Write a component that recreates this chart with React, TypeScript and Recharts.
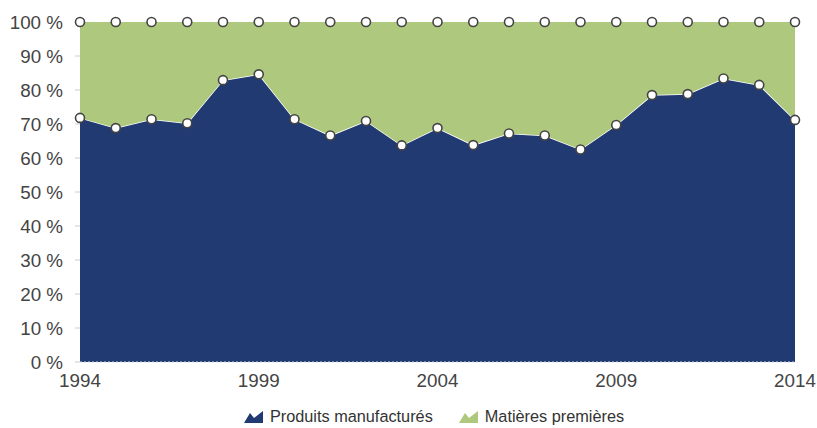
import { AreaChart, Area, XAxis, YAxis, Legend } from "recharts";

const years = [
  1994, 1995, 1996, 1997, 1998, 1999, 2000, 2001, 2002, 2003, 2004, 2005, 2006,
  2007, 2008, 2009, 2010, 2011, 2012, 2013, 2014,
];
const produits = [
  71.8, 68.8, 71.4, 70.2, 82.9, 84.6, 71.4, 66.6, 70.9, 63.7, 68.8, 63.8, 67.2,
  66.6, 62.5, 69.7, 78.5, 78.8, 83.4, 81.5, 71.2,
];
const matieres = produits.map((p) => +(100 - p).toFixed(1));
const xTicks = [1994, 1999, 2004, 2009, 2014];
const yTicks = [0, 10, 20, 30, 40, 50, 60, 70, 80, 90, 100];

const NAVY = "#223a72";
const GREEN = "#aec97e";

const data = years.map((year, i) => ({
  year,
  produits: produits[i],
  matieres: matieres[i],
}));

const font = "'Liberation Sans', Arial, sans-serif";

const AreaIcon = ({ color }: { color: string }) => (
  <svg width={19} height={13} style={{ marginRight: 7 }}>
    <path d="M0 13 L6 3 L10 8 L19 1 L19 13 Z" fill={color} />
  </svg>
);

const LegendContent = () => (
  <div
    style={{
      display: "flex",
      justifyContent: "center",
      alignItems: "center",
      gap: 26,
      paddingTop: 15,
      paddingLeft: 51,
      fontSize: 16.3,
      color: "#333",
      fontFamily: font,
    }}
  >
    <span style={{ display: "flex", alignItems: "center" }}>
      <AreaIcon color={NAVY} />
      Produits manufacturés
    </span>
    <span style={{ display: "flex", alignItems: "center" }}>
      <AreaIcon color={GREEN} />
      Matières premières
    </span>
  </div>
);

const dot = { r: 4.5, fill: "#fff", stroke: "#444", strokeWidth: 1.6 };

export default function App() {
  return (
    <div style={{ position: "absolute", left: 0, top: 0, background: "#fff" }}>
      <AreaChart
        width={817}
        height={428}
        data={data}
        margin={{ top: 22, right: 0, bottom: 0, left: 0 }}
      >
        <XAxis
          dataKey="year"
          type="number"
          domain={[1994, 2014]}
          ticks={xTicks}
          tickLine={false}
          tickMargin={6}
          height={30}
          axisLine={{ stroke: "#ccd6eb", strokeDasharray: "2 2" }}
          tick={{ fill: "#444", fontSize: 18.8, fontFamily: font }}
        />
        <YAxis
          yAxisId="left"
          domain={[0, 100]}
          ticks={yTicks}
          width={80}
          axisLine={false}
          tickSize={5}
          tickMargin={12}
          tickLine={{ stroke: "#ccc" }}
          tickFormatter={(v: number) => `${v} %`}
          tick={{ fill: "#444", fontSize: 18.8, fontFamily: font }}
        />
        <YAxis
          yAxisId="right"
          orientation="right"
          domain={[0, 100]}
          ticks={yTicks}
          width={22}
          axisLine={false}
          tickSize={10}
          tickLine={{ stroke: "#ddd" }}
          tickFormatter={() => ""}
        />
        <Legend verticalAlign="bottom" height={36} content={<LegendContent />} />
        <Area
          yAxisId="left"
          type="linear"
          dataKey="produits"
          stackId="1"
          fill={NAVY}
          fillOpacity={1}
          stroke="#fff"
          strokeWidth={1.5}
          dot={dot}
          activeDot={false}
          isAnimationActive={false}
        />
        <Area
          yAxisId="left"
          type="linear"
          dataKey="matieres"
          stackId="1"
          fill={GREEN}
          fillOpacity={1}
          stroke="none"
          dot={dot}
          activeDot={false}
          isAnimationActive={false}
        />
      </AreaChart>
    </div>
  );
}
